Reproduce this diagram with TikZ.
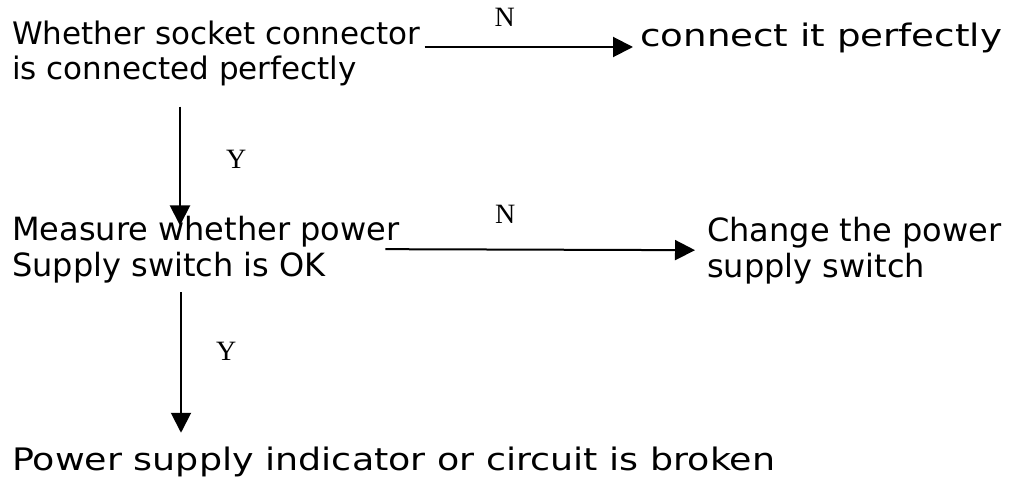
\documentclass[tikz,border=0pt]{standalone}
\usepackage{fontspec}
\setmainfont{DejaVu Sans}
\newfontfamily\widefont[FakeStretch=1.2]{DejaVu Sans}
\newfontfamily\midfont[FakeStretch=1.175]{DejaVu Sans}
\newfontfamily\lblfont{Liberation Serif}
\usetikzlibrary{arrows.meta,positioning}
\tikzset{
  txt/.style={anchor=base west, align=left, inner sep=0pt,
              font=\fontsize{32}{36}\selectfont},
  wtxt/.style={txt, font=\widefont\fontsize{31}{35}\selectfont},
  lbl/.style={inner sep=0pt, font=\lblfont\fontsize{28}{28}\selectfont},
  ar/.style={-{Triangle[length=20pt,width=20pt]}, line width=2pt},
}
\begin{document}
\begin{tikzpicture}[x=1pt,y=-1pt]
  \useasboundingbox (0,0) rectangle (1017,484);
  \node[txt, font=\fontsize{31}{35}\selectfont] (sock) at (12,80) {Whether socket connector\\is connected perfectly};
  \node[wtxt] (fix) at (640,47) {connect it perfectly};
  \node[txt] (meas) at (12,276) {Measure whether power\\Supply switch is OK};
  \node[txt] (chg) at (707,277) {Change the power\\supply switch};
  \node[wtxt, font=\midfont\fontsize{31}{35}\selectfont] (brk) at (12,470) {Power supply indicator or circuit is broken};
  \draw[ar] ([xshift=4pt,yshift=33pt]sock.base east) -- ([xshift=-7pt]fix.base west)
    node[lbl, pos=0.385, above=19pt] {N};
  \draw[ar] ([xshift=168pt,yshift=-20pt]sock.south west) -- ([xshift=168pt,yshift=-10pt]meas.north west)
    node[lbl, pos=0.445, right=45pt] {Y};
  \draw[ar] ([xshift=-14pt]meas.east) -- ([xshift=-12pt]chg.west)
    node[lbl, pos=0.387, above=25pt] {N};
  \draw[ar] ([xshift=169pt,yshift=-9.5pt]meas.south west) -- ([xshift=169pt,yshift=13.5pt]brk.north west)
    node[lbl, pos=0.42, right=34pt] {Y};
\end{tikzpicture}
\end{document}
